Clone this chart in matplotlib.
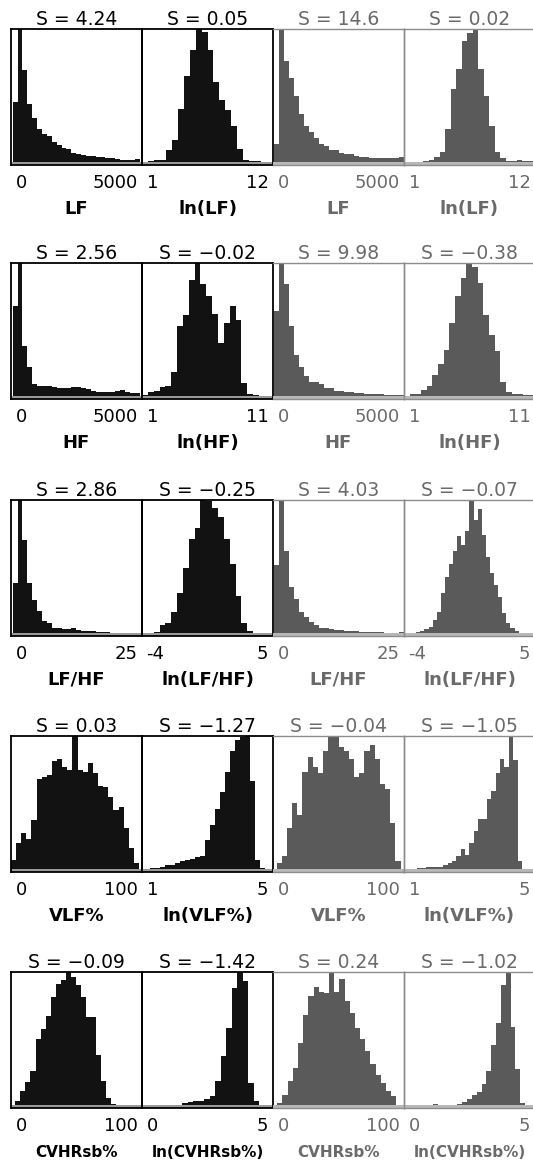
import numpy as np
import matplotlib.pyplot as plt

plt.rcParams['font.family'] = ['DejaVu Sans']

# bar heights (% of tallest bar), left to right
# group 1 = black panels, group 2 = grey panels
LF_1 = [45, 100, 69, 44, 33, 25, 21, 20, 15, 13, 11, 10, 7, 6, 5.5, 5, 4.5, 4, 4, 3.5, 3, 2.5, 2, 2, 2, 2.5]
lnLF_1 = [0, 1, 1.5, 2, 9, 17, 40, 65, 84, 100, 98, 84, 60, 47, 39, 27, 10, 2, 1, 1, 0.5, 0.5]
LF_2 = [14, 100, 76, 63, 50, 36, 27, 23, 18, 14, 12, 9, 9, 7, 6, 6, 4.5, 4, 4, 3.5, 3.5, 3, 3, 3, 3, 4]
lnLF_2 = [0.3, 0.5, 0.5, 1, 1.5, 4, 8, 25, 55, 70, 91, 97, 100, 70, 50, 27, 8, 3, 1, 1, 1.5, 1, 1]

HF_1 = [68, 100, 38, 22, 9, 8, 8, 7.5, 7, 6.5, 6, 6.5, 7, 7, 6, 5.5, 4, 3.5, 3.5, 3, 3.5, 4, 4.5, 3, 2.5, 2.5]
lnHF_1 = [1, 3, 4, 7, 8, 18, 53, 61, 87, 100, 84, 75, 62, 40, 55, 68, 57, 10, 1.5, 1, 0.5, 0.5]
HF_2 = [64, 100, 84, 53, 31, 22, 15, 11, 11, 9, 6, 6, 4, 4, 3.5, 3, 2.5, 2.5, 2, 2, 1.5, 1.5, 1, 1, 1, 1]
lnHF_2 = [0.5, 1.5, 2, 5, 8, 16, 24, 35, 55, 75, 89, 100, 97, 85, 61, 46, 34, 11, 3, 1.5, 1.5, 1, 1]

LFHF_1 = [38, 100, 70, 38, 25, 17, 9.5, 7.5, 4, 4, 3.5, 3, 4, 2.5, 2, 1.5, 1.5, 1.2, 1, 0.8, 0.5, 0.5, 0.3, 0.3, 0.3, 0.3]
lnLFHF_1 = [0, 0.5, 0.8, 6, 8, 16, 30, 49, 71, 79, 100, 99, 94, 87, 71, 52, 28, 8, 1.5, 0.3, 0.3, 0.3]
LFHF_2 = [51, 100, 62, 35, 26, 16, 12, 8.5, 6, 4, 4, 3, 2.5, 2.5, 2, 2, 1.5, 1, 1, 0.8, 0.8, 0.8, 0.5, 0.5, 0.5, 0.8]
lnLFHF_2 = [0, 0, 0.3, 0.8, 2, 3, 5, 10, 16, 30, 42, 52, 62, 73, 66, 77, 100, 85, 93, 74, 57, 45, 36, 27,
            15, 8, 4, 1.5, 0.5, 0.3, 0.3, 0.3]

VLF_1 = [7, 19.5, 27, 22.5, 37, 68, 69.5, 71, 81, 82.5, 77, 74.5, 100, 74.5, 73, 80, 72, 62.5, 62, 54.5,
         44.5, 47, 31, 16, 5]
lnVLF_1 = [0.5, 0.8, 1, 1.5, 3, 3, 4.5, 6, 7, 7.5, 9.5, 10, 22, 33, 45, 58, 73, 89, 97, 99, 100, 66, 7, 1, 0.5]
VLF_2 = [5, 10, 31, 50, 41, 73, 84, 77, 72, 89, 100, 99, 92, 89, 83, 69, 72, 89, 93, 83, 64, 60, 35, 6]
lnVLF_2 = [0.5, 0.5, 0.5, 0.8, 0.8, 1.5, 1.5, 2, 2, 3.3, 4.5, 6, 10, 15, 11, 20, 29, 38, 38, 53, 59, 72, 83,
           77, 100, 82, 6, 0, 0, 0]

CVHR_1 = [3.5, 10.5, 17.6, 25.7, 49.6, 57, 67, 81, 91, 94, 100, 96, 90, 81, 66, 66, 38, 18, 5.5, 0.8, 0.5, 0.3]
lnCVHR_1 = [0, 0, 0.5, 0, 0, 0, 0.5, 1.8, 2.5, 3, 3.5, 5, 7, 18, 37, 58, 88, 100, 93, 17, 3]
CVHR_2 = [1.8, 7.7, 18, 28, 47, 68, 82, 89, 85, 84, 100, 85, 95, 78, 69, 58, 49.5, 41, 31, 23, 17, 11, 7]
lnCVHR_2 = [0.8, 0, 0, 0.3, 0.3, 1.3, 2.5, 5, 8, 10, 16, 26, 45, 62, 90, 100, 59, 27, 2]

# histogram ranges (data units) for each series
range_raw_1 = [(65, 4910), (65, 4910), (0.33, 24.55), (0, 97.7), (3.3, 88.1)]
range_ln_1 = [(1, 12), (1, 10.82), (-4, 4.84), (1.08, 4.91), (0.06, 4.48)]
range_raw_2 = [(40, 5000), (40, 5000), (0.2, 25), (2.8, 97.4), (3.3, 94.1)]
range_ln_2 = [(1.25, 11.86), (1, 10.95), (-4, 5), (1, 5), (1.12, 4.62)]

# skewness labels
skew_raw_1 = ["4.24", "2.56", "2.86", "0.03", "\u22120.09"]
skew_ln_1 = ["0.05", "\u22120.02", "\u22120.25", "\u22121.27", "\u22121.42"]
skew_raw_2 = ["14.6", "9.98", "4.03", "\u22120.04", "0.24"]
skew_ln_2 = ["0.02", "\u22120.38", "\u22120.07", "\u22121.05", "\u22121.02"]

var_names = ["LF", "HF", "LF/HF", "VLF%", "CVHRsb%"]
raw_ticks = [(0, 5000), (0, 5000), (0, 25), (0, 100), (0, 100)]
ln_ticks = [(1, 12), (1, 11), (-4, 5), (1, 5), (0, 5)]

series = [
    [LF_1, lnLF_1, LF_2, lnLF_2],
    [HF_1, lnHF_1, HF_2, lnHF_2],
    [LFHF_1, lnLFHF_1, LFHF_2, lnLFHF_2],
    [VLF_1, lnVLF_1, VLF_2, lnVLF_2],
    [CVHR_1, lnCVHR_1, CVHR_2, lnCVHR_2],
]

W, H = 533, 1163
fig = plt.figure(figsize=(W / 100, H / 100), dpi=100)

col_left = [11, 142, 273, 404]
row_top = [29, 263, 500, 736, 972]
pw, ph = 131, 136

for r in range(5):
    ranges = [range_raw_1[r], range_ln_1[r], range_raw_2[r], range_ln_2[r]]
    skews = [skew_raw_1[r], skew_ln_1[r], skew_raw_2[r], skew_ln_2[r]]
    for c in range(4):
        grey = c >= 2
        bar_col = '#5a5a5a' if grey else '#121212'
        txt_col = '#6a6a6a' if grey else 'black'
        sp_col = '#8c8c8c' if grey else 'black'
        band_col = '#b8b8b8' if grey else '#9a9a9a'

        ax = fig.add_axes([col_left[c] / W, (H - row_top[r] - ph) / H, pw / W, ph / H])
        ax.patch.set_alpha(0)

        h = np.array(series[r][c], dtype=float)
        lo, hi = ranges[c]
        edges = np.linspace(lo, hi, len(h) + 1)
        ax.bar(edges[:-1], h, width=np.diff(edges), align='edge', color=bar_col, linewidth=0)

        is_ln = c % 2 == 1
        tk = ln_ticks[r] if is_ln else raw_ticks[r]
        ymax = h.max()
        ax.set_xlim(tk[0], tk[1])
        ax.set_ylim(-0.02 * ymax, ymax)
        ax.axhspan(-0.02 * ymax, 0, color=band_col, lw=0)
        ax.set_xticks([])
        ax.set_yticks([])

        for s in ax.spines.values():
            s.set_color(sp_col)
            s.set_linewidth(1.0 if grey else 1.3)
        if c == 2:
            ax.spines['left'].set_visible(False)

        ax.set_title(f"S = {skews[c]}", fontsize=13.5, pad=3, color=txt_col)

        ax.text(0.035, -0.17, str(tk[0]), transform=ax.transAxes, ha='left', va='baseline',
                fontsize=13, color=txt_col)
        ax.text(0.965, -0.17, str(tk[1]), transform=ax.transAxes, ha='right', va='baseline',
                fontsize=13, color=txt_col)

        name = f"ln({var_names[r]})" if is_ln else var_names[r]
        ax.text(0.5, -0.36, name, transform=ax.transAxes, ha='center', va='baseline',
                fontsize=11 if r == 4 else 13, fontweight='bold', color=txt_col)

fig.savefig("out.png", dpi=100)
